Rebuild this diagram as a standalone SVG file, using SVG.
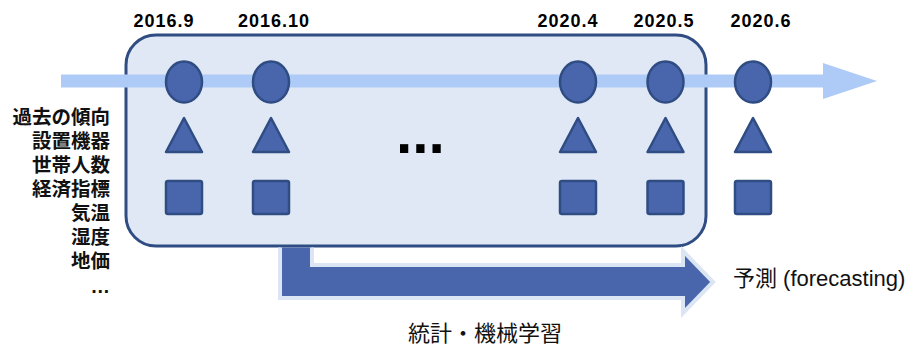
<svg xmlns="http://www.w3.org/2000/svg" width="905" height="347" viewBox="0 0 905 347">
<style>
  .shape { fill: #4966ad; stroke: #2f4c83; stroke-width: 2.5; }
  .date { font-family: "Liberation Sans", Arial, sans-serif; font-weight: bold; font-size: 18px; letter-spacing: 1px; fill: #000; text-anchor: middle; }
  .feat { font-family: "Liberation Sans", "Noto Sans CJK JP", sans-serif; font-weight: bold; font-size: 19.5px; fill: #111; text-anchor: end; }
  .cap { font-family: "Liberation Sans", "Noto Sans CJK JP", sans-serif; font-size: 22px; fill: #111; }
</style>
<rect width="905" height="347" fill="#ffffff"/>
<g id="period-box">
  <rect x="126" y="35" width="580" height="211" rx="30" ry="30" fill="#dfe8f4" stroke="#2f4c83" stroke-width="3"/>
</g>
<g id="connectors">
  <g id="learning-arrow">
    <path d="M280,247.5 H312 V265 H683 V251 L713,282 L683,313 V298 H280 Z" fill="#4966ad"/>
    <path d="M312,247.5 V265 H683 V251 L713,282 L683,313 V298 H280 V247.5" fill="none" stroke="#dbe5f4" stroke-width="4"/>
  </g>
  <g id="timeline">
    <rect x="61" y="74.5" width="763" height="13" fill="#adcbf6"/>
    <polygon points="823,63 877,81 823,99" fill="#adcbf6"/>
  </g>
</g>
<g id="node-2016-9">
  <text class="date" x="164" y="27">2016.9</text>
  <ellipse class="shape" cx="184" cy="82" rx="18" ry="20.5"/>
  <polygon class="shape" points="184,118 166,152 202,152" stroke-linejoin="round"/>
  <rect class="shape" x="166" y="181" width="36" height="33" rx="2"/>
</g>
<g id="node-2016-10">
  <text class="date" x="274" y="27">2016.10</text>
  <ellipse class="shape" cx="271" cy="82" rx="18" ry="20.5"/>
  <polygon class="shape" points="271,118 253,152 289,152" stroke-linejoin="round"/>
  <rect class="shape" x="253" y="181" width="36" height="33" rx="2"/>
</g>
<g id="ellipsis-mid">
  <text x="396" y="153" font-family="Liberation Sans, Arial, sans-serif" font-weight="bold" font-size="58.6" fill="#000">...</text>
</g>
<g id="node-2020-4">
  <text class="date" x="568" y="27">2020.4</text>
  <ellipse class="shape" cx="578" cy="82" rx="18" ry="20.5"/>
  <polygon class="shape" points="578,118 560,152 596,152" stroke-linejoin="round"/>
  <rect class="shape" x="560" y="181" width="36" height="33" rx="2"/>
</g>
<g id="node-2020-5">
  <text class="date" x="664" y="27">2020.5</text>
  <ellipse class="shape" cx="665.5" cy="82" rx="18" ry="20.5"/>
  <polygon class="shape" points="665.5,118 647.5,152 683.5,152" stroke-linejoin="round"/>
  <rect class="shape" x="647.5" y="181" width="36" height="33" rx="2"/>
</g>
<g id="node-2020-6">
  <text class="date" x="761" y="27">2020.6</text>
  <ellipse class="shape" cx="753" cy="82" rx="18" ry="20.5"/>
  <polygon class="shape" points="753,118 735,152 771,152" stroke-linejoin="round"/>
  <rect class="shape" x="735" y="181" width="36" height="33" rx="2"/>
</g>
<g id="features">
  <text class="feat" x="110" y="123.5">過去の傾向</text>
  <text class="feat" x="110" y="147.5">設置機器</text>
  <text class="feat" x="110" y="171.5">世帯人数</text>
  <text class="feat" x="110" y="195.5">経済指標</text>
  <text class="feat" x="110" y="219.5">気温</text>
  <text class="feat" x="110" y="243.5">湿度</text>
  <text class="feat" x="110" y="267.5">地価</text>
  <text class="feat" x="110" y="293">…</text>
</g>
<g id="labels">
  <text class="cap" x="733" y="286">予測 (forecasting)</text>
  <text class="cap" x="408" y="341">統計・機械学習</text>
</g>
</svg>
